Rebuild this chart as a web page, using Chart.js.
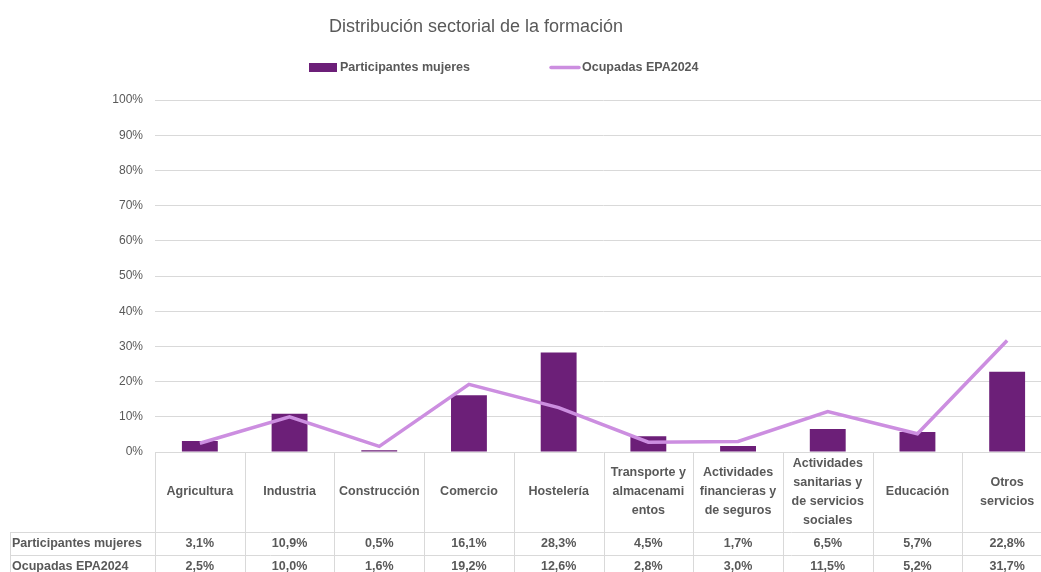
<!DOCTYPE html>
<html>
<head>
<meta charset="utf-8">
<script src="https://cdn.jsdelivr.net/npm/chart.js@4"></script>
<style>
  html, body { margin: 0; padding: 0; background: #fff; overflow: hidden; }
  #wrap { width: 1060px; height: 600px; }
</style>
</head>
<body>
<div id="wrap"><canvas id="chart" width="1060" height="600"></canvas></div>
<script>
// chart data
const chartTitle = "Distribución sectorial de la formación";
const categories = [
  ["Agricultura"],
  ["Industria"],
  ["Construcción"],
  ["Comercio"],
  ["Hostelería"],
  ["Transporte y", "almacenami", "entos"],
  ["Actividades", "financieras y", "de seguros"],
  ["Actividades", "sanitarias y", "de servicios", "sociales"],
  ["Educación"],
  ["Otros", "servicios"],
];
const participantesLabel = "Participantes mujeres";
const participantes = [3.1, 10.9, 0.5, 16.1, 28.3, 4.5, 1.7, 6.5, 5.7, 22.8];
const ocupadasLabel = "Ocupadas EPA2024";
const ocupadas = [2.5, 10.0, 1.6, 19.2, 12.6, 2.8, 3.0, 11.5, 5.2, 31.7];

const BAR_COLOR = "#6c1f78";
const LINE_COLOR = "#cc8ee0";
const TEXT_COLOR = "#595959";
const GRID_COLOR = "#d9d9d9";
const FONT = "'Liberation Sans', Arial, sans-serif";

const fmt = (v) => v.toFixed(1).replace(".", ",") + "%";

// title, legend and data table drawn around the chart area
const tablePlugin = {
  id: "tablePlugin",
  afterDraw(chart) {
    const ctx = chart.ctx;
    const x = chart.scales.x;
    const area = chart.chartArea;
    const step = x.width / categories.length;
    const top = area.bottom;
    const headBottom = top + 80;
    const row1 = headBottom + 23;
    const row2 = row1 + 23;

    ctx.save();
    // title
    ctx.fillStyle = TEXT_COLOR;
    ctx.font = "18px " + FONT;
    ctx.textAlign = "center";
    ctx.textBaseline = "middle";
    ctx.fillText(chartTitle, 476, 27);

    // legend
    ctx.fillStyle = BAR_COLOR;
    ctx.fillRect(309, 63, 28, 9);
    ctx.strokeStyle = LINE_COLOR;
    ctx.lineWidth = 3.5;
    ctx.lineCap = "round";
    ctx.beginPath();
    ctx.moveTo(551, 67.5);
    ctx.lineTo(579, 67.5);
    ctx.stroke();
    ctx.fillStyle = TEXT_COLOR;
    ctx.font = "bold 12.5px " + FONT;
    ctx.textAlign = "left";
    ctx.fillText(participantesLabel, 340, 68);
    ctx.fillText(ocupadasLabel, 582, 68);

    // table lines
    ctx.strokeStyle = GRID_COLOR;
    ctx.lineWidth = 1;
    ctx.lineCap = "butt";
    ctx.beginPath();
    for (let i = 0; i <= categories.length; i++) {
      const bx = Math.round(x.left + i * step) + 0.5;
      ctx.moveTo(bx, top);
      ctx.lineTo(bx, row2 + 40);
    }
    [headBottom, row1, row2].forEach((y) => {
      ctx.moveTo(10, y + 0.5);
      ctx.lineTo(x.right, y + 0.5);
    });
    ctx.moveTo(10.5, headBottom);
    ctx.lineTo(10.5, row2 + 40);
    ctx.stroke();

    // category labels and values
    ctx.fillStyle = TEXT_COLOR;
    ctx.font = "bold 12.5px " + FONT;
    ctx.textAlign = "center";
    const lh = 19;
    categories.forEach((lines, i) => {
      const cx = x.getPixelForValue(i);
      const y0 = (top + headBottom) / 2 - ((lines.length - 1) * lh) / 2;
      lines.forEach((t, j) => ctx.fillText(t, cx, y0 + j * lh));
      ctx.fillText(fmt(participantes[i]), cx, row1 - 11);
      ctx.fillText(fmt(ocupadas[i]), cx, row2 - 11);
    });
    ctx.textAlign = "left";
    ctx.fillText(participantesLabel, 12, row1 - 11);
    ctx.fillText(ocupadasLabel, 12, row2 - 11);
    ctx.restore();
  },
};

new Chart(document.getElementById("chart"), {
  data: {
    labels: categories.map((c) => c.join(" ")),
    datasets: [
      {
        type: "line",
        label: ocupadasLabel,
        data: ocupadas,
        borderColor: LINE_COLOR,
        borderWidth: 3.5,
        pointRadius: 0,
        tension: 0,
        order: 0,
      },
      {
        type: "bar",
        label: participantesLabel,
        data: participantes,
        backgroundColor: BAR_COLOR,
        categoryPercentage: 1,
        barPercentage: 0.4,
        order: 1,
      },
    ],
  },
  options: {
    responsive: false,
    animation: false,
    layout: { padding: { top: 100, bottom: 148, left: 0, right: 8 } },
    plugins: {
      legend: { display: false },
      title: { display: false },
      tooltip: { enabled: false },
    },
    scales: {
      x: {
        grid: { display: false, drawTicks: false },
        border: { display: false },
        ticks: { display: false },
        afterFit: (s) => { s.height = 0; },
      },
      y: {
        min: 0,
        max: 100,
        ticks: {
          stepSize: 10,
          padding: 12,
          color: TEXT_COLOR,
          font: { family: FONT, size: 12 },
          callback: (v) => v + "%",
        },
        grid: { color: GRID_COLOR, drawTicks: false },
        border: { display: false },
        afterFit: (s) => { s.width = 155; },
      },
    },
  },
  plugins: [tablePlugin],
});
</script>
</body>
</html>
